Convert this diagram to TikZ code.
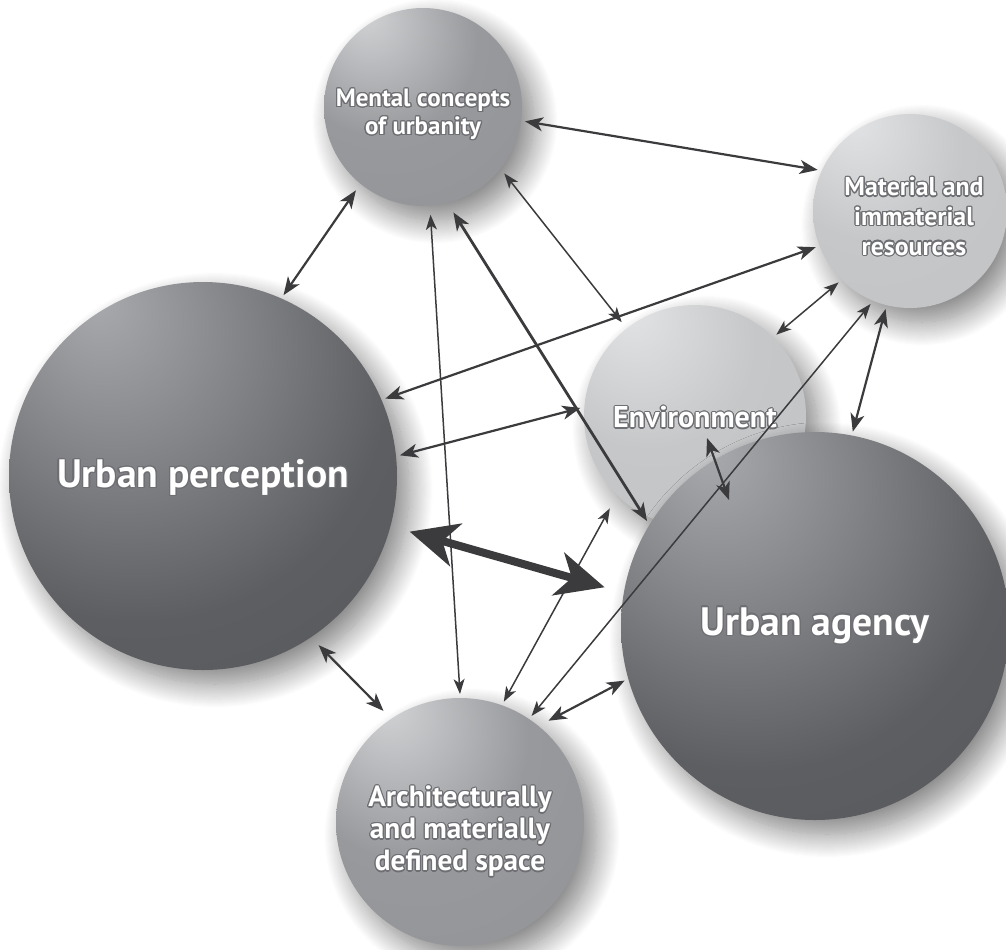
\documentclass[tikz,border=0pt]{standalone}
\usepackage{fontspec}
\setmainfont{PT Sans}
\usepackage{contour}
\contourlength{0.6pt}
\usetikzlibrary{arrows.meta,shadows.blur}
\definecolor{darkhl}{HTML}{A9AAAD}
\definecolor{darkbase}{HTML}{5D5E61}
\definecolor{darkedge}{HTML}{4F5053}
\definecolor{midhl}{HTML}{D2D3D5}
\definecolor{midbase}{HTML}{98999C}
\definecolor{midedge}{HTML}{8D8E91}
\definecolor{litehl}{HTML}{E2E3E4}
\definecolor{litebase}{HTML}{C6C7C9}
\definecolor{liteedge}{HTML}{BDBEC0}
\definecolor{arrowgray}{HTML}{3B3B3D}
\definecolor{outl}{HTML}{6E6F72}
\pgfdeclareradialshading{sphdark}{\pgfpoint{-14bp}{23bp}}{color(0bp)=(darkhl);color(32bp)=(darkbase);color(75bp)=(darkedge)}
\pgfdeclareradialshading{sphmid}{\pgfpoint{-15bp}{24bp}}{color(0bp)=(midhl);color(24bp)=(midbase);color(75bp)=(midedge)}
\pgfdeclareradialshading{sphlite}{\pgfpoint{-15bp}{24bp}}{color(0bp)=(litehl);color(24bp)=(litebase);color(75bp)=(liteedge)}
\begin{document}
\begin{tikzpicture}[x=0.5pt,y=-0.5pt,
  sphere/.style={circle,inner sep=0pt,outer sep=2pt,
    blur shadow={shadow xshift=6pt,shadow yshift=-7pt,shadow blur radius=12pt,shadow blur steps=24,shadow opacity=50}},
  darksph/.style={sphere,shading=sphdark},
  midsph/.style={sphere,shading=sphmid},
  litesph/.style={sphere,shading=sphlite},
  txt/.style={text=white,align=center,inner sep=0pt},
  arr/.style={{Stealth[length=9pt,width=7pt,inset=2.5pt]}-{Stealth[length=9pt,width=7pt,inset=2.5pt]},arrowgray,line width=1.1pt},
  thinarr/.style={{Stealth[length=7.5pt,width=5.5pt,inset=2pt]}-{Stealth[length=7.5pt,width=5.5pt,inset=2pt]},arrowgray,line width=0.75pt},
  bigarr/.style={{Stealth[length=24pt,width=22pt,inset=7pt]}-{Stealth[length=24pt,width=22pt,inset=7pt]},arrowgray,line width=4pt}]
\useasboundingbox (0,0) rectangle (1006,949);
% circles, back to front
\node[midsph,minimum size=99pt] (ment) at (423,107) {};
\node[litesph,minimum size=97pt] (res) at (910,211) {};
\node[litesph,minimum size=111pt] (env) at (695,416) {};
\node[darksph,minimum size=194pt] (perc) at (203,476) {};
\node[darksph,minimum size=194pt] (agen) at (815,626) {};
\node[midsph,minimum size=124pt] (space) at (460,822) {};
% labels
\node[txt,font=\fontsize{12.5}{14}\selectfont\bfseries] (ment-t) at ([yshift=-4pt]ment.center) {\contour{outl}{Mental concepts}\\\contour{outl}{of urbanity}};
\node[txt,font=\fontsize{12.9}{14.8}\selectfont\bfseries] (res-t) at ([xshift=2pt,yshift=-3pt]res.center) {\contour{outl}{Material and}\\\contour{outl}{immaterial}\\\contour{outl}{resources}};
\node[txt,font=\fontsize{15}{17}\selectfont\bfseries] (env-t) at ([yshift=-1pt]env.center) {\contour{outl}{Environment}};
\node[txt,font=\fontsize{19.8}{22}\selectfont\bfseries] (perc-t) at ([yshift=-1pt]perc.center) {\contour{outl}{Urban perception}};
\node[txt,font=\fontsize{19.8}{22}\selectfont\bfseries] (agen-t) at (agen.center) {\contour{outl}{Urban agency}};
\node[txt,font=\fontsize{14.6}{16}\selectfont\bfseries] (space-t) at ([yshift=-5pt]space.center) {\contour{outl}{Architecturally}\\\contour{outl}{and materially}\\\contour{outl}{defined space}};
% connectors
\draw[arr] (ment.-8) -- (res.156);
\draw[arr,shorten <=2pt] (ment.-129) -- (perc.66);
\draw[thinarr,shorten <=2.5pt] (ment.-86) -- (space.90);
\draw[arr,line width=1.4pt,shorten <=3.5pt] (ment.-75) -- (agen.148);
\draw[thinarr,shorten <=1pt,shorten >=2pt] (ment.-39) -- (env.128);
\draw[arr] (perc.23) -- (res.-159);
\draw[arr] (perc.6) -- (env.176);
\draw[bigarr,shorten <=8pt,shorten >=8pt] (perc.-15) -- (agen.170);
\draw[arr,shorten <=3.5pt,shorten >=3.5pt] (perc.-56) -- (space.124);
\draw[thinarr] (env.45) -- (res.-135);
\draw[thinarr] (space.56) -- (res.-113);
\draw[arr] (res.-104) -- (agen.79);
\draw[arr] ([shift={(12,22)}]env.center) -- ([shift={(-86,-126)}]agen.center);
\draw[thinarr,shorten >=5.5pt] (space.70) -- (env.-134);
\draw[arr,shorten <=3.5pt] (space.50) -- (agen.-164);
\end{tikzpicture}
\end{document}
